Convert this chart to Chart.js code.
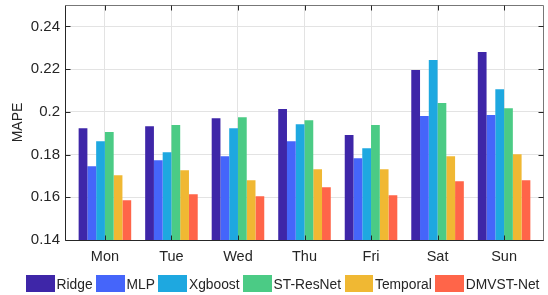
<!DOCTYPE html>
<html>
<head>
<meta charset="utf-8">
<script src="https://cdn.jsdelivr.net/npm/chart.js@4"></script>
<style>
  html, body { margin:0; padding:0; background:#fff; }
  #wrap { position:relative; width:548px; height:295px; }
  #c { position:absolute; left:0; top:0; }
  #legend { position:absolute; left:26px; top:275px; display:flex; align-items:center;
            font-family: Arial, "Liberation Sans", Helvetica, sans-serif; font-size:13.8px; color:#262626; white-space:nowrap; }
  .item { display:flex; align-items:center; margin-right:3.5px; }
  .sw { width:28.5px; height:17px; margin-right:2px; }
  .lab { line-height:17px; position:relative; top:1px; }
</style>
</head>
<body>
<div id="wrap">
  <canvas id="c" width="548" height="295"></canvas>
  <div id="legend"></div>
</div>
<script>
const days = ['Mon','Tue','Wed','Thu','Fri','Sat','Sun'];
const seriesNames = ['Ridge','MLP','Xgboost','ST-ResNet','Temporal','DMVST-Net'];
const ridge    = [0.1923, 0.1933, 0.1970, 0.2013, 0.1891, 0.2196, 0.2280];
const mlp      = [0.1745, 0.1773, 0.1792, 0.1862, 0.1783, 0.1980, 0.1985];
const xgboost  = [0.1862, 0.1811, 0.1923, 0.1942, 0.1830, 0.2242, 0.2106];
const stresnet = [0.1905, 0.1938, 0.1975, 0.1961, 0.1938, 0.2041, 0.2017];
const temporal = [0.1703, 0.1727, 0.1680, 0.1731, 0.1731, 0.1792, 0.1801];
const dmvst    = [0.1586, 0.1614, 0.1605, 0.1647, 0.1609, 0.1675, 0.1680];
const yTicks = [0.14, 0.16, 0.18, 0.20, 0.22, 0.24];
const colors = ['#3E26A8','#4565FA','#1EA8E0','#4BCB85','#F0B833','#FF6549'];
const allSeries = [ridge, mlp, xgboost, stresnet, temporal, dmvst];

const FONT = 'Arial, "Liberation Sans", Helvetica, sans-serif';

const datasets = allSeries.map((vals, i) => ({
  label: seriesNames[i],
  data: vals.map((v, j) => ({ x: j + 1, y: v })),
  backgroundColor: colors[i],
  borderWidth: 0,
  categoryPercentage: 0.79,
  barPercentage: 1.0
}));

const boxPlugin = {
  id: 'box',
  afterDatasetsDraw(chart) {
    const { ctx, chartArea: a, scales } = chart;
    ctx.save();
    ctx.lineWidth = 1;
    const L = Math.round(a.left) + 0.5, R = Math.round(a.right) - 0.5;
    const T = Math.round(a.top) + 0.5, B = Math.round(a.bottom) + 0.5;
    ctx.strokeStyle = '#777';
    ctx.beginPath(); ctx.moveTo(L, T); ctx.lineTo(R, T); ctx.lineTo(R, B); ctx.stroke();
    ctx.strokeStyle = '#262626';
    ctx.beginPath(); ctx.moveTo(L, T); ctx.lineTo(L, B); ctx.lineTo(R, B); ctx.stroke();
    const tl = 5;
    ctx.beginPath();
    yTicks.forEach(v => {
      const y = Math.round(scales.y.getPixelForValue(v)) + 0.5;
      ctx.moveTo(L, y); ctx.lineTo(L + tl, y);
      ctx.moveTo(R, y); ctx.lineTo(R - tl, y);
    });
    days.forEach((d, i) => {
      const x = Math.round(scales.x.getPixelForValue(i + 1)) + 0.5;
      ctx.moveTo(x, B); ctx.lineTo(x, B - tl);
      ctx.moveTo(x, T); ctx.lineTo(x, T + tl);
    });
    ctx.stroke();
    ctx.restore();
  }
};

new Chart(document.getElementById('c'), {
  type: 'bar',
  data: { datasets },
  options: {
    responsive: false,
    animation: false,
    devicePixelRatio: 1,
    layout: { padding: { left: 0, right: 4, top: 5, bottom: 0 } },
    plugins: { legend: { display: false }, tooltip: { enabled: false } },
    scales: {
      x: {
        type: 'linear',
        offset: false,
        min: 0.4, max: 7.6,
        afterBuildTicks(s) { s.ticks = days.map((d, i) => ({ value: i + 1 })); },
        afterFit(s) { s.height = 55; s.paddingLeft = 0; s.paddingRight = 0; },
        ticks: {
          callback: (v) => days[Math.round(v) - 1],
          font: { family: FONT, size: 14.5 },
          color: '#262626',
          padding: 8,
          maxRotation: 0, autoSkip: false
        },
        grid: { color: '#e3e3e3', drawTicks: false, lineWidth: 1, offset: false },
        border: { display: false }
      },
      y: {
        min: 0.14, max: 0.25,
        afterBuildTicks(s) { s.ticks = yTicks.map(v => ({ value: v })); },
        afterFit(s) { s.width = 65; s.paddingTop = 0; s.paddingBottom = 0; },
        ticks: {
          callback: (v) => String(Number(v.toFixed(2))),
          font: { family: FONT, size: 15 },
          color: '#262626',
          padding: 5
        },
        grid: { color: '#e3e3e3', drawTicks: false, lineWidth: 1 },
        border: { display: false },
        title: {
          display: true, text: 'MAPE',
          font: { family: FONT, size: 14 },
          color: '#262626',
          padding: { top: 10, bottom: 0 }
        }
      }
    }
  },
  plugins: [boxPlugin]
});

const lg = document.getElementById('legend');
seriesNames.forEach((n, i) => {
  const it = document.createElement('div'); it.className = 'item';
  const sw = document.createElement('div'); sw.className = 'sw'; sw.style.background = colors[i];
  const lb = document.createElement('span'); lb.className = 'lab'; lb.textContent = n;
  it.appendChild(sw); it.appendChild(lb); lg.appendChild(it);
});
</script>
</body>
</html>
